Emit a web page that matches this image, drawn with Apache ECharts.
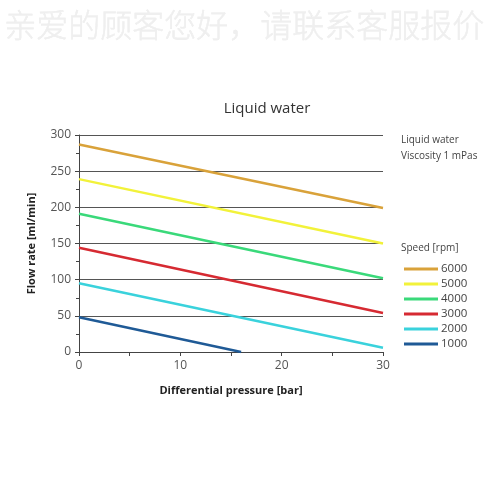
<!DOCTYPE html>
<html>
<head>
<meta charset="utf-8">
<script src="https://cdn.jsdelivr.net/npm/echarts@6/dist/echarts.min.js"></script>
<style>html,body{margin:0;padding:0;background:#fff}#c{width:500px;height:500px}</style>
</head>
<body>
<div id="c"></div>
<script>
var speeds = ['6000', '5000', '4000', '3000', '2000', '1000'];
var colors = ['#d9a23a', '#f2f23a', '#3ad97a', '#d62a32', '#3ad2dc', '#1f5a96'];
var pressure = [0, 30];
var flow6000 = [[0, 287], [30, 199]];
var flow5000 = [[0, 239], [30, 150]];
var flow4000 = [[0, 191], [30, 102]];
var flow3000 = [[0, 144], [30, 54]];
var flow2000 = [[0, 95], [30, 6]];
var flow1000 = [[0, 48], [16, 0]];
var flows = [flow6000, flow5000, flow4000, flow3000, flow2000, flow1000];

var font = '"Open Sans", "Noto Sans", sans-serif';
var chart = echarts.init(document.getElementById('c'), null, {renderer: 'canvas'});
chart.setOption({
  animation: false,
  backgroundColor: '#fff',
  title: {
    text: 'Liquid water',
    left: 262, top: 96, textAlign: 'center',
    textStyle: {fontFamily: font, fontSize: 15, fontWeight: 'normal', color: '#333'}
  },
  graphic: [
    {type: 'text', left: 4, top: 9, style: {text: '亲爱的顾客您好，请联系客服报价', font: '300 32px "Noto Sans CJK SC"', fill: '#efefef', stroke: '#e4e4e4', lineWidth: 0.3}},
    {type: 'text', left: 401, top: 135, style: {text: 'Liquid water', font: '10px ' + font, fill: '#444'}},
    {type: 'text', left: 401, top: 151, style: {text: 'Viscosity 1 mPas', font: '10px ' + font, fill: '#444'}},
    {type: 'text', left: 401, top: 243, style: {text: 'Speed [rpm]', font: '10px ' + font, fill: '#444'}}
  ],
  legend: {
    orient: 'vertical', left: 399, top: 258,
    itemWidth: 34, itemHeight: 3, itemGap: 3,
    icon: 'rect',
    textStyle: {fontFamily: font, fontSize: 11.5, color: '#444', padding: [0, 0, 0, -2]},
    data: speeds
  },
  grid: {left: 79, right: 117, top: 135, bottom: 148, containLabel: false},
  xAxis: {
    type: 'value', min: 0, max: 30, interval: 10,
    name: 'Differential pressure [bar]', nameLocation: 'middle', nameGap: 33,
    nameTextStyle: {fontFamily: font, fontSize: 11, fontWeight: 'bold', color: '#222'},
    axisLine: {show: true, lineStyle: {color: '#444'}},
    axisTick: {show: true, length: 4, lineStyle: {color: '#444'}},
    minorTick: {show: true, splitNumber: 2, length: 4, lineStyle: {color: '#444'}},
    splitLine: {show: false},
    axisLabel: {fontFamily: font, fontSize: 12, color: '#555', margin: 8}
  },
  yAxis: {
    type: 'value', min: 0, max: 300, interval: 50,
    name: 'Flow rate [ml/min]', nameLocation: 'middle', nameGap: 42,
    nameTextStyle: {fontFamily: font, fontSize: 11, fontWeight: 'bold', color: '#222'},
    axisLine: {show: true, lineStyle: {color: '#444'}},
    axisTick: {show: true, length: 4, lineStyle: {color: '#444'}},
    minorTick: {show: true, splitNumber: 2, length: 3, lineStyle: {color: '#444'}},
    splitLine: {show: true, lineStyle: {color: '#555', width: 1}},
    axisLabel: {fontFamily: font, fontSize: 12, color: '#555', margin: 8}
  },
  series: speeds.map(function (s, i) {
    return {
      name: s, type: 'line', data: flows[i], symbol: 'none',
      color: colors[i],
      lineStyle: {width: 2.5, color: colors[i]}
    };
  })
});
</script>
</body>
</html>
